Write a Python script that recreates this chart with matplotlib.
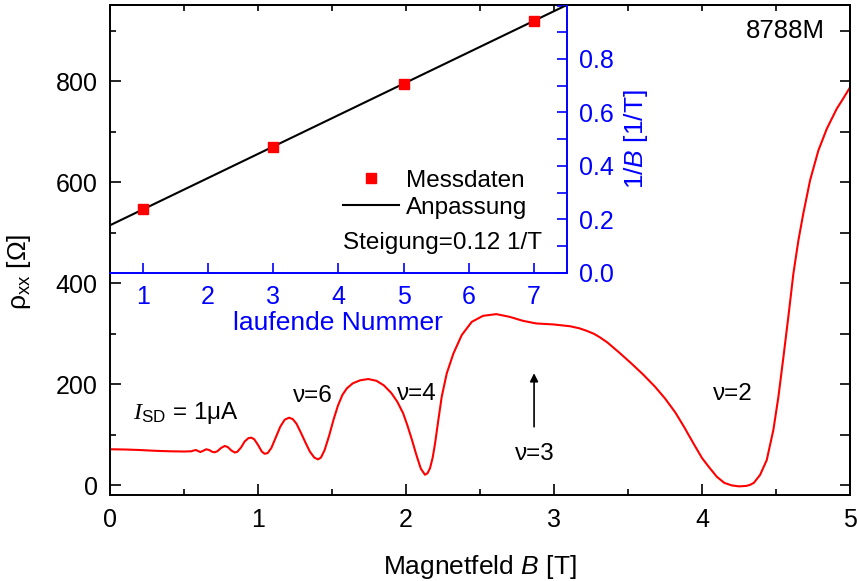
import numpy as np
import matplotlib.pyplot as plt
from matplotlib.ticker import MultipleLocator

plt.rcParams['font.family'] = ['Liberation Sans', 'DejaVu Sans']
plt.rcParams['mathtext.fontset'] = 'custom'
plt.rcParams['mathtext.rm'] = 'Liberation Sans'
plt.rcParams['mathtext.it'] = 'Liberation Sans:italic'
plt.rcParams['mathtext.sf'] = 'Liberation Serif:italic'

# ---- Messkurve rho_xx(B) ----
b_field = [0.00, 0.10, 0.20, 0.30, 0.40, 0.50, 0.55, 0.565, 0.58, 0.595,
           0.61, 0.63, 0.65, 0.67, 0.69, 0.707, 0.725, 0.75, 0.775, 0.795,
           0.82, 0.843, 0.86, 0.885, 0.91, 0.935, 0.955, 0.975, 1.00, 1.025,
           1.045, 1.065, 1.09, 1.12, 1.15, 1.18, 1.21, 1.235, 1.26, 1.29,
           1.32, 1.35, 1.38, 1.405, 1.425, 1.45, 1.48, 1.51, 1.54, 1.57,
           1.60, 1.64, 1.69, 1.745, 1.80, 1.85, 1.90, 1.94, 1.98, 2.01,
           2.04, 2.07, 2.10, 2.128, 2.145, 2.162, 2.18, 2.196, 2.218, 2.241,
           2.275, 2.32, 2.376, 2.444, 2.52, 2.61, 2.70, 2.79, 2.88, 2.995,
           3.108, 3.17, 3.22, 3.27, 3.31, 3.36, 3.44, 3.52, 3.60, 3.68,
           3.75, 3.82, 3.88, 3.94, 4.00, 4.05, 4.10, 4.15, 4.20, 4.25,
           4.30, 4.324, 4.35, 4.392, 4.437, 4.482, 4.516, 4.55, 4.583, 4.617,
           4.651, 4.684, 4.73, 4.786, 4.843, 4.91, 4.95, 5.00]
rho_xx = [71.5, 71, 70, 68.5, 67.5, 67, 67.5, 69, 70, 68,
          66, 68.5, 71.5, 70, 66.5, 65.5, 67.5, 74, 78, 76,
          69, 65, 66.5, 75, 87, 93.5, 94.5, 91, 80, 67,
          62.5, 64, 74, 95, 116, 130, 134, 131, 122, 104,
          85, 67, 55, 51.5, 55, 70, 98, 130, 158, 179,
          192, 202, 208, 210.5, 207, 198, 183, 166, 143, 118,
          90, 60, 33, 21, 24, 34, 55, 83, 129, 175.5,
          221.7, 261, 297.4, 323.7, 335.6, 339, 333.6, 325.7, 320.5, 318.6,
          315, 311, 306, 300, 293, 283, 263, 242, 220, 196,
          172, 144, 115, 84, 54, 35, 17, 5, 0, -2,
          -1, 1, 5, 20.7, 50, 110, 175.5, 254.6, 333.6, 419,
          485, 538, 604, 663, 706, 745.5, 764, 788]

# ---- Inset: 1/B der Minima ueber laufende Nummer ----
nummer = [1, 3, 5, 7]
inv_b = [0.237, 0.471, 0.708, 0.943]

fs_tick = 18
fs_label = 19
fs_text = 17.5

fig = plt.figure(figsize=(8.57, 5.81), dpi=100)
ax = fig.add_axes([0.1284, 0.1472, 0.8635, 0.8434])

ax.plot(b_field, rho_xx, color='red', lw=1.5)
ax.set_xlim(0, 5)
ax.set_ylim(-20, 950)
ax.xaxis.set_major_locator(MultipleLocator(1))
ax.xaxis.set_minor_locator(MultipleLocator(0.5))
ax.yaxis.set_major_locator(MultipleLocator(200))
ax.yaxis.set_minor_locator(MultipleLocator(100))
ax.tick_params(which='both', direction='in', labelsize=fs_tick, width=1.2,
               top=False, right=False)
ax.tick_params(axis='y', pad=9)
ax.tick_params(axis='x', pad=9)
ax.tick_params(which='major', length=8)
ax.tick_params(which='minor', length=4.5)
for sp in ax.spines.values():
    sp.set_linewidth(1.4)

# rechte und obere Achse nur mit Strichen
sec_y = ax.secondary_yaxis('right')
sec_y.yaxis.set_major_locator(MultipleLocator(100))
sec_y.tick_params(direction='in', length=7.5, width=1.2, labelright=False)
sec_y.spines['right'].set_linewidth(1.4)
sec_x = ax.secondary_xaxis('top')
sec_x.xaxis.set_major_locator(MultipleLocator(0.5))
sec_x.tick_params(direction='in', length=4, width=1.2, labeltop=False)
sec_x.spines['top'].set_linewidth(1.4)

ax.set_xlabel(r'Magnetfeld $B$ [T]', fontsize=fs_label, labelpad=15)
ax.set_ylabel(r'ρ$_{\rm xx}$ [Ω]', fontsize=fs_label)
ax.yaxis.set_label_coords(-0.104, 0.456)

ax.text(1.236, 165.6, 'ν=6', fontsize=fs_text, va='baseline')
ax.text(1.937, 169, 'ν=4', fontsize=fs_text, va='baseline')
ax.text(2.736, 50, 'ν=3', fontsize=fs_text, va='baseline')
ax.text(4.076, 169, 'ν=2', fontsize=fs_text, va='baseline')
ax.annotate('', xy=(2.865, 222), xytext=(2.865, 116),
            arrowprops=dict(arrowstyle='-|>', color='black', lw=1.2,
                            mutation_scale=12, shrinkA=0, shrinkB=0))
ax.text(0.155, 131, r'$\mathsf{I}_{\mathrm{SD}}$ = 1μA', fontsize=fs_text,
        va='baseline')
ax.text(0.966, 0.947, '8788M', transform=ax.transAxes, fontsize=18.5,
        ha='right', va='center')

# ---- Inset ----
ins = fig.add_axes([0.1284, 0.5306, 0.5329, 0.4599])
ins.set_facecolor('none')
ins.plot(nummer, inv_b, 's', color='red', ms=7.7, label='Messdaten', zorder=3)
fit = np.polyfit(nummer, inv_b, 1)
x_fit = np.array([0.5, 7.5])
ins.plot(x_fit, np.polyval(fit, x_fit), color='black', lw=1.5,
         label='Anpassung')
ins.set_xlim(0.5, 7.5)
ins.set_ylim(0, 1.0)
ins.xaxis.set_major_locator(MultipleLocator(1))
ins.set_yticks(np.arange(0, 0.81, 0.2))
ins.yaxis.set_minor_locator(MultipleLocator(0.1))
ins.yaxis.tick_right()
ins.yaxis.set_label_position('right')
ins.yaxis.set_major_formatter(plt.FormatStrFormatter('%.1f'))
ins.tick_params(which='both', direction='in', colors='blue', labelsize=fs_tick,
                length=7.5, width=1.2, pad=9)
ins.spines['right'].set_color('blue')
ins.spines['bottom'].set_color('blue')
ins.spines['left'].set_visible(False)
ins.spines['top'].set_visible(False)
for sp in ('right', 'bottom'):
    ins.spines[sp].set_linewidth(1.4)
ins.set_xlabel('laufende Nummer', color='blue', fontsize=fs_label, labelpad=1)
ins.set_ylabel(r'1/$B$ [1/T]', color='blue', fontsize=fs_label, labelpad=6)

ins.legend(loc='upper left', bbox_to_anchor=(0.51, 0.385), frameon=False,
           fontsize=fs_text, handlelength=2.3, handletextpad=0.3,
           labelspacing=0.2, borderpad=0, borderaxespad=0)
ins.text(0.51, 0.111, f'Steigung={fit[0]:.2f} 1/T', transform=ins.transAxes,
         fontsize=fs_text, ha='left', va='center')

fig.savefig('out.png', dpi=100)
